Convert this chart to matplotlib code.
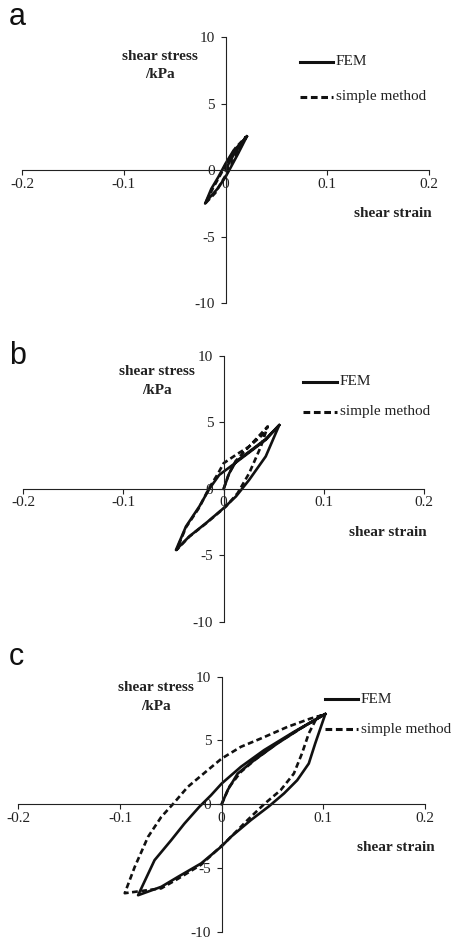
import numpy as np
import matplotlib
matplotlib.use('Agg')
from matplotlib import pyplot as plt

plt.rcParams['axes.unicode_minus'] = False

# Hysteresis loops: FEM and simple method, three strain amplitudes
# panel a
fem_a_x = [0, 0.005, 0.01, 0.015, 0.021, 0.012, 0.005, 0, -0.008, -0.015, -0.020,
           -0.014, -0.007, 0, 0.008, 0.015, 0.021]
fem_a_y = [0, 0.8, 1.4, 2.0, 2.55, 1.2, 0.2, -0.5, -1.4, -2.0, -2.5,
           -1.4, -0.5, 0.5, 1.5, 2.0, 2.55]
sim_a_x = [0, 0.006, 0.012, 0.02, 0.012, 0.004, 0, -0.01, -0.02,
           -0.012, -0.004, 0, 0.01, 0.02]
sim_a_y = [0, 0.9, 1.6, 2.5, 1.3, 0.2, -0.4, -1.7, -2.5,
           -1.3, -0.2, 0.4, 1.7, 2.5]

# panel b
fem_b_x = [0, 0.0056, 0.0123, 0.029, 0.042, 0.0555,
           0.042, 0.0255, 0.0123, 0, -0.0176, -0.0343, -0.0476,
           -0.0376, -0.0243, -0.0143, -0.0044, 0.009, 0.029, 0.042, 0.0555]
fem_b_y = [0, 1.18, 2.06, 3.0, 3.75, 4.8,
           2.44, 0.68, -0.57, -1.45, -2.58, -3.58, -4.6,
           -2.83, -1.33, 0, 1.05, 1.8, 2.94, 3.69, 4.8]
sim_b_x = [0, 0.005, 0.012, 0.025, 0.044,
           0.0372, 0.0255, 0.014, 0.0023, -0.0176, -0.0343, -0.047,
           -0.0376, -0.0243, -0.015, -0.006, 0, 0.0123, 0.0255, 0.0389, 0.044]
sim_b_y = [0, 1.1, 2.1, 3.15, 4.7,
           3.19, 1.18, -0.32, -1.33, -2.6, -3.6, -4.6,
           -2.9, -1.4, 0, 1.1, 1.93, 2.56, 3.19, 4.07, 4.7]

# panel c
fem_c_x = [0, 0.0059, 0.0157, 0.032, 0.0548, 0.0776, 0.102,
           0.092, 0.0857, 0.0743, 0.0613, 0.0466, 0.0287, 0.0091, 0, -0.0203,
           -0.043, -0.0594, -0.0822,
           -0.066, -0.0496, -0.0366, -0.0219, -0.0105, 0, 0.0189, 0.0417, 0.071, 0.102]
fem_c_y = [0, 1.1, 2.4, 3.45, 4.76, 5.94, 7.08,
           4.76, 3.19, 1.88, 0.84, -0.16, -1.25, -2.56, -3.3, -4.65,
           -5.7, -6.48, -7.14,
           -4.39, -2.82, -1.52, -0.2, 0.7, 1.62, 2.93, 4.24, 5.67, 7.08]
sim_c_x = [0, 0.0075, 0.0189, 0.033, 0.055, 0.078, 0.1,
           0.094, 0.0857, 0.079, 0.071, 0.058, 0.0417, 0.0254, 0.0059, -0.0203,
           -0.043, -0.0594, -0.0953,
           -0.0855, -0.0724, -0.0594, -0.048, -0.0333, -0.0137, 0, 0.0189, 0.0385,
           0.0646, 0.0874, 0.1]
sim_c_y = [0, 1.36, 2.53, 3.5, 4.8, 5.95, 7.0,
           6.85, 5.55, 3.98, 2.4, 1.1, 0, -1.25, -2.82, -4.75,
           -5.85, -6.6, -6.98,
           -4.92, -2.56, -1.0, 0, 1.36, 2.67, 3.58, 4.5, 5.15,
           6.06, 6.72, 7.0]

x_ticks = [-0.2, -0.1, 0, 0.1, 0.2]
x_labels = ['-0.2', '-0.1', '0', '0.1', '0.2']
y_ticks = [-10, -5, 0, 5, 10]
y_labels = ['-10', '-5', '0', '5', '10']

W, H = 454, 943
fig = plt.figure(figsize=(W / 100, H / 100), dpi=100)


def box(x0, x1, ytop, ybot):
    # pixel box -> figure fraction
    return [x0 / W, 1 - ybot / H, (x1 - x0) / W, (ybot - ytop) / H]


def ftxt(x, y, s, **kw):
    fig.text(x / W, 1 - y / H, s, **kw)


panels = [
    ('a', box(22, 429, 37.3, 303.3), fem_a_x, fem_a_y, sim_a_x, sim_a_y,
     (300, 333, 61.7, 96.7), (160, 57, 74), (432, 213.5), 17),
    ('b', box(23.3, 424, 356, 621.7), fem_b_x, fem_b_y, sim_b_x, sim_b_y,
     (303, 337, 381.7, 411.7), (157, 371.7, 391), (427, 532.5), 356),
    ('c', box(18.3, 425, 676.7, 931.7), fem_c_x, fem_c_y, sim_c_x, sim_c_y,
     (325, 358, 699.3, 729.3), (156, 687.3, 706), (435, 847.5), 657),
]

serif = 'Liberation Serif'
for name, rect, fx, fy, sx, sy, leg, ylab, xlab, ly in panels:
    ax = fig.add_axes(rect)
    ax.plot(fx, fy, color='#111111', lw=1.9, solid_joinstyle='round')
    ax.plot(sx, sy, color='#111111', lw=1.9, ls=(0, (2.2, 1.3)))
    ax.set_xlim(-0.2, 0.2)
    ax.set_ylim(-10, 10)
    ax.patch.set_visible(False)
    for s in ['top', 'right']:
        ax.spines[s].set_visible(False)
    for s in ['left', 'bottom']:
        ax.spines[s].set_position('zero')
        ax.spines[s].set_linewidth(0.8)
        ax.spines[s].set_color('#222222')
    ax.set_xticks(x_ticks)
    ax.set_xticklabels(x_labels)
    ax.set_yticks(y_ticks)
    ax.set_yticklabels(y_labels)
    ax.tick_params(axis='x', direction='out', length=3.5, width=0.8, pad=2,
                   color='#222222', labelsize=11)
    ax.tick_params(axis='y', direction='out', length=3.5, width=0.8, pad=4,
                   color='#222222', labelsize=11)
    for lab in ax.get_xticklabels() + ax.get_yticklabels():
        lab.set_family(serif)
        lab.set_color('#222222')

    # legend drawn by hand
    x0, x1, y1, y2 = leg
    fig.add_artist(plt.Line2D([x0 / W, x1 / W], [1 - y1 / H, 1 - y1 / H],
                              color='#111111', lw=2.2))
    fig.add_artist(plt.Line2D([x0 / W, x1 / W], [1 - y2 / H, 1 - y2 / H],
                              color='#111111', lw=2.2, ls=(0, (2.2, 1.2))))
    ftxt(x1 + 3, y1, 'FEM', family=serif, fontsize=11, va='center', color='#222222')
    ftxt(x1 + 3, y2, 'simple method', family=serif, fontsize=11, va='center',
         color='#222222')

    cx, t1, t2 = ylab
    ftxt(cx, t1, 'shear stress', family=serif, fontweight='bold', fontsize=11,
         ha='center', va='center', color='#222222')
    ftxt(cx, t2, '/kPa', family=serif, fontweight='bold', fontsize=11,
         ha='center', va='center', color='#222222')
    ftxt(xlab[0], xlab[1], 'shear strain', family=serif, fontweight='bold',
         fontsize=11, ha='right', va='center', color='#222222')
    ftxt(9, ly, name, family='Liberation Sans', fontsize=22, ha='left',
         va='center', color='#111111')

fig.savefig('out.png', dpi=100)
